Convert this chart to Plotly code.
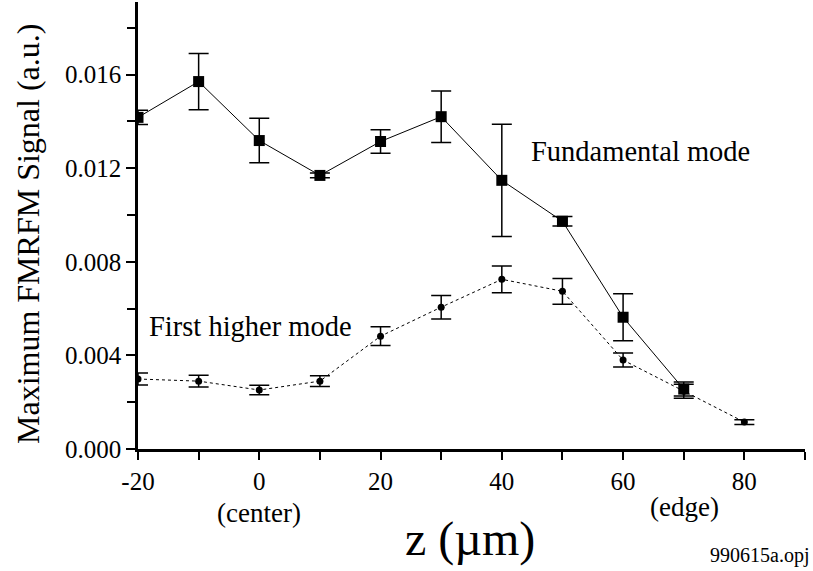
import plotly.graph_objects as go

z_fund = [-20, -10, 0, 10, 20, 30, 40, 50, 60, 70]
sig_fund = [0.01417, 0.0157, 0.01318, 0.01169, 0.01314, 0.0142, 0.01148, 0.00973, 0.00563, 0.00256]
err_fund = [0.0003, 0.0012, 0.00095, 0.0001, 0.0005, 0.0011, 0.0024, 0.0002, 0.001, 0.0003]

z_high = [-20, -10, 0, 10, 20, 30, 40, 50, 60, 70, 80]
sig_high = [0.00299, 0.0029, 0.00252, 0.0029, 0.00482, 0.00606, 0.00725, 0.00674, 0.0038, 0.00247, 0.00115]
err_high = [0.00026, 0.00025, 0.0002, 0.00023, 0.0004, 0.0005, 0.00057, 0.00055, 0.0003, 0.0003, 0.0001]

y_ticks = [0.000, 0.004, 0.008, 0.012, 0.016]
y_ticklabels = ["0.000", "0.004", "0.008", "0.012", "0.016"]
x_ticks = [-20, 0, 20, 40, 60, 80]

FONT = "Liberation Serif, Times New Roman, serif"

# plot area in pixels
L, R, T, B = 138, 805, 2, 449

fig = go.Figure()
fig.add_trace(go.Scatter(
    x=z_high, y=sig_high, mode="lines+markers",
    line=dict(color="black", width=1, dash="3px,3px"),
    marker=dict(symbol="circle", size=7, color="black"),
    error_y=dict(type="data", array=err_high, width=10, thickness=1.5, color="black"),
    showlegend=False,
))
fig.add_trace(go.Scatter(
    x=z_fund, y=sig_fund, mode="lines+markers",
    line=dict(color="black", width=1),
    marker=dict(symbol="square", size=11, color="black"),
    error_y=dict(type="data", array=err_fund, width=10, thickness=1.5, color="black"),
    showlegend=False,
))

fig.update_layout(
    width=813, height=571,
    margin=dict(l=L, r=813 - R, t=T, b=571 - B),
    paper_bgcolor="white", plot_bgcolor="white",
    font=dict(family=FONT, color="black"),
    xaxis=dict(
        range=[-20, 90], tickvals=x_ticks, ticktext=[str(v) for v in x_ticks],
        showline=True, linecolor="black", linewidth=2.5, showgrid=False, zeroline=False,
        ticks="outside", ticklen=8, tickwidth=2, tickcolor="black",
        tickfont=dict(family=FONT, size=25),
        minor=dict(dtick=10, tick0=-20, ticks="outside", ticklen=8, tickwidth=2, tickcolor="black", showgrid=False),
    ),
    yaxis=dict(
        range=[0, 0.0191], tickvals=y_ticks, ticktext=y_ticklabels,
        showline=True, linecolor="black", linewidth=2.5, showgrid=False, zeroline=False,
        ticks="outside", ticklen=9, tickwidth=2, tickcolor="black",
        tickfont=dict(family=FONT, size=25),
        minor=dict(dtick=0.002, tick0=0, ticks="outside", ticklen=8, tickwidth=2, tickcolor="black", showgrid=False),
    ),
)

annots = [
    dict(text="Maximum FMRFM Signal (a.u.)", x=28, y=234, textangle=-90, size=32),
    dict(text="z (\u00b5m)", x=470, y=539, size=48),
    dict(text="(center)", x=259, y=513, size=27),
    dict(text="(edge)", x=684, y=507, size=27),
    dict(text="990615a.opj", x=759, y=555, size=20),
    dict(text="Fundamental mode", x=640, y=152, size=28.5),
    dict(text="First higher mode", x=250, y=326, size=28.5),
]
for a in annots:
    fig.add_annotation(
        text=a["text"], x=(a["x"] - L) / (R - L), y=(B - a["y"]) / (B - T),
        xref="paper", yref="paper",
        xanchor="center", yanchor="middle", showarrow=False, textangle=a.get("textangle", 0),
        font=dict(family=FONT, size=a["size"], color="black"),
    )

fig.write_html("out.html")
